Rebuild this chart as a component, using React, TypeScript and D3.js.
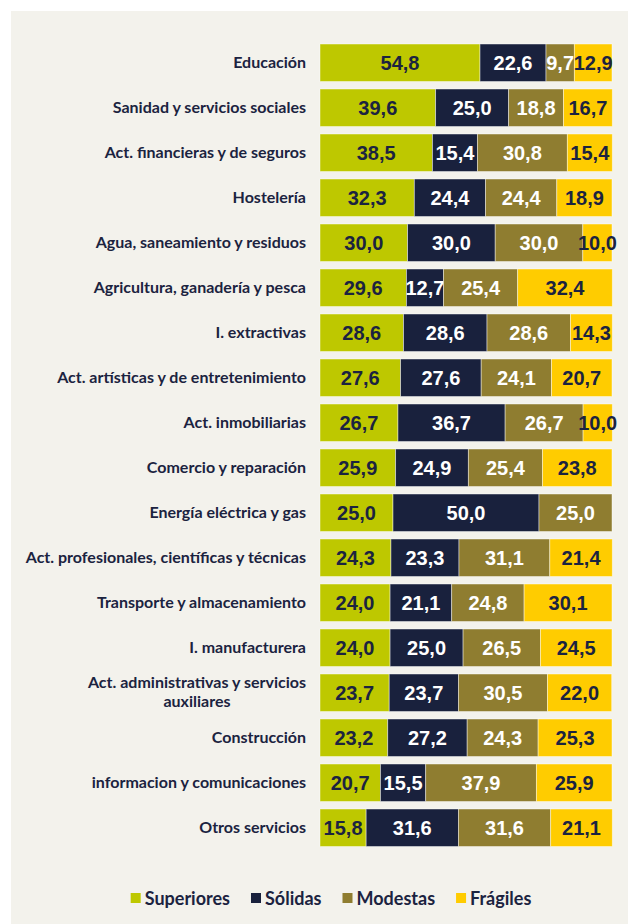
import React, { useEffect, useRef } from "react";
import * as d3 from "d3";

const categories = [
  "Educación",
  "Sanidad y servicios sociales",
  "Act. financieras y de seguros",
  "Hostelería",
  "Agua, saneamiento y residuos",
  "Agricultura, ganadería y pesca",
  "I. extractivas",
  "Act. artísticas y de entretenimiento",
  "Act. inmobiliarias",
  "Comercio y reparación",
  "Energía eléctrica y gas",
  "Act. profesionales, científicas y técnicas",
  "Transporte y almacenamiento",
  "I. manufacturera",
  "Act. administrativas y servicios|auxiliares",
  "Construcción",
  "informacion y comunicaciones",
  "Otros servicios",
];

const seriesNames = ["Superiores", "Sólidas", "Modestas", "Frágiles"];

const superiores = [54.8, 39.6, 38.5, 32.3, 30.0, 29.6, 28.6, 27.6, 26.7, 25.9, 25.0, 24.3, 24.0, 24.0, 23.7, 23.2, 20.7, 15.8];
const solidas = [22.6, 25.0, 15.4, 24.4, 30.0, 12.7, 28.6, 27.6, 36.7, 24.9, 50.0, 23.3, 21.1, 25.0, 23.7, 27.2, 15.5, 31.6];
const modestas = [9.7, 18.8, 30.8, 24.4, 30.0, 25.4, 28.6, 24.1, 26.7, 25.4, 25.0, 31.1, 24.8, 26.5, 30.5, 24.3, 37.9, 31.6];
const fragiles = [12.9, 16.7, 15.4, 18.9, 10.0, 32.4, 14.3, 20.7, 10.0, 23.8, 0, 21.4, 30.1, 24.5, 22.0, 25.3, 25.9, 21.1];

const colors = ["#bec800", "#19213d", "#8f7d30", "#ffcc00"];
const textColors = ["#1b2340", "#ffffff", "#ffffff", "#1b2340"];
const dark = "#1b2340";

export default function App() {
  const ref = useRef<SVGSVGElement | null>(null);

  useEffect(() => {
    document.body.style.margin = "0";
    const svg = d3.select(ref.current!);
    svg.selectAll("*").remove();

    svg.append("rect").attr("x", 11).attr("y", 11).attr("width", 640).attr("height", 940).attr("fill", "#f3f2ec");

    const x = d3.scaleLinear().domain([0, 100]).range([320, 612]);
    const y = d3
      .scaleBand<string>()
      .domain(categories)
      .range([36.5, 36.5 + 45 * (18 + 1 / 6)])
      .paddingInner(1 / 6)
      .paddingOuter(1 / 6);

    const series = [superiores, solidas, modestas, fragiles];
    const rows = categories.map((c, i) => {
      const o: any = { cat: c };
      seriesNames.forEach((s, k) => (o[s] = series[k][i]));
      return o;
    });
    const stacked = d3.stack<any>().keys(seriesNames)(rows);

    const g = svg.append("g");
    stacked.forEach((layer, k) => {
      const lg = g.append("g");
      lg.selectAll("rect")
        .data(layer.filter((d) => d[1] - d[0] > 0))
        .join("rect")
        .attr("x", (d) => x(d[0]))
        .attr("y", (d) => y(d.data.cat)!)
        .attr("width", (d) => x(d[1]) - x(d[0]))
        .attr("height", y.bandwidth())
        .attr("fill", colors[k])
        .attr("stroke", "rgba(255,255,255,0.55)")
        .attr("stroke-width", 0.8);
      lg.selectAll("text")
        .data(layer.filter((d) => d[1] - d[0] > 0))
        .join("text")
        .attr("x", (d) => (x(d[0]) + x(d[1])) / 2)
        .attr("y", (d) => y(d.data.cat)! + y.bandwidth() / 2 + 7)
        .attr("text-anchor", "middle")
        .attr("font-family", "'Liberation Sans Narrow', sans-serif")
        .attr("font-weight", 700)
        .attr("font-size", 20)
        .attr("fill", textColors[k])
        .text((d) => (d[1] - d[0]).toFixed(1).replace(".", ","));
    });

    const lab = svg.append("g").attr("font-family", "Lato, sans-serif").attr("font-weight", 700).attr("font-size", 16).attr("fill", dark);
    categories.forEach((c) => {
      const parts = c.split("|");
      const cy = y(c)! + y.bandwidth() / 2;
      if (parts.length === 1) {
        lab.append("text").attr("x", 306).attr("y", cy + 5).attr("text-anchor", "end").text(c);
      } else {
        const t1 = lab.append("text").attr("x", 306).attr("y", cy - 5).attr("text-anchor", "end").text(parts[0]);
        const w1 = (t1.node() as SVGTextElement).getComputedTextLength();
        lab.append("text").attr("x", 306 - w1 / 2).attr("y", cy + 14).attr("text-anchor", "middle").text(parts[1]);
      }
    });

    const leg = svg.append("g").attr("font-family", "Lato, sans-serif").attr("font-weight", 700).attr("font-size", 18).attr("fill", dark);
    const items = seriesNames.map((s, k) => {
      const gi = leg.append("g");
      gi.append("rect").attr("width", 10).attr("height", 10).attr("y", 893).attr("fill", colors[k]);
      const t = gi.append("text").attr("x", 14).attr("y", 905).text(s);
      const w = (t.node() as SVGTextElement).getComputedTextLength();
      return { gi, w: 14 + w };
    });
    const gap = 21;
    const total = d3.sum(items, (d) => d.w) + gap * (items.length - 1);
    let cx = 331 - total / 2;
    items.forEach((it) => {
      it.gi.attr("transform", `translate(${cx},0)`);
      cx += it.w + gap;
    });
  }, []);

  return <svg ref={ref} width={628} height={924} style={{ display: "block" }} />;
}
